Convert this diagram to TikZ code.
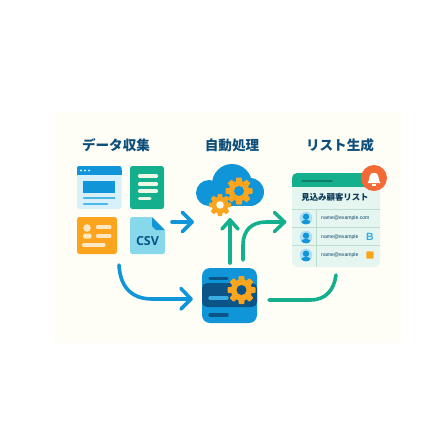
\documentclass[tikz,border=0pt]{standalone}
\usepackage{fontspec}
\newfontfamily\cjk{Noto Sans CJK JP}
\setmainfont{Liberation Sans}
\newfontfamily\opensans{Open Sans}
\definecolor{cream}{HTML}{FFFEF6}
\definecolor{navy}{HTML}{0E4E7A}
\definecolor{blueA}{HTML}{1096D8}
\definecolor{blueL}{HTML}{4BB8EA}
\definecolor{paleB}{HTML}{D8F0FA}
\definecolor{greenA}{HTML}{14B08E}
\definecolor{paleY}{HTML}{EEF8E6}
\definecolor{orangeA}{HTML}{FBA51E}
\definecolor{paleO}{HTML}{FCE8C4}
\definecolor{csvC}{HTML}{86D8EA}
\definecolor{darkB}{HTML}{0B5487}
\definecolor{cardC}{HTML}{E4F6EF}
\definecolor{sepC}{HTML}{BFDDCF}
\definecolor{redO}{HTML}{F26A35}
\definecolor{darkG}{HTML}{0E7F6A}
\tikzset{
  titletext/.style={font=\cjk\bfseries\fontsize{13.6}{14}\selectfont,text=navy,inner sep=0pt},
  mailtext/.style={font=\fontsize{5.1}{6}\selectfont,text=navy!85!black,inner sep=0pt,anchor=west},
  flow/.style={line width=3.6pt,line cap=round,line join=round},
  bluebar/.style={line width=2.3pt,line cap=round,blueL},
  greenbar/.style={line width=3.2pt,line cap=round,paleY},
  orangebar/.style={line width=3.2pt,line cap=round,paleO},
  slot/.style={line width=3.4pt,line cap=round},
  sep/.style={line width=1pt,sepC},
}
% centre x, y, outer radius, hole radius, gear colour, hole colour
\newcommand{\mygear}[6]{%
  \fill[#5] (#1,#2) circle[radius=0.76*#3 pt];
  \foreach \ang in {0,45,...,315}{%
    \fill[#5,shift={(#1,#2)},rotate=\ang,rounded corners=.6pt]
      (-0.28*#3,0) -- (-0.2*#3,#3) -- (0.2*#3,#3) -- (0.28*#3,0) -- cycle;}
  \fill[#6] (#1,#2) circle[radius=#4 pt];
}
\begin{document}
\begin{tikzpicture}[x=1pt,y=-1pt]
\useasboundingbox (0,0) rectangle (448,448);
\fill[white] (0,0) rectangle (448,448);
\fill[cream] (54,112) rectangle (401,343);

% titles
\node[titletext] (t1) at (116,145) {データ収集};
\node[titletext] (t2) at (232,145) {自動処理};
\node[titletext] (t3) at (340,145) {リスト生成};

% window icon
\fill[paleB,rounded corners=2.5pt] (77,166) rectangle (121.5,209);
\fill[blueA,rounded corners=2pt] (77,166) rectangle (121.5,172);
\fill[blueA] (77,170) rectangle (121.5,175);
\foreach \dx in {81,85,89}{\fill[paleB] (\dx,170.5) circle[radius=1.1pt];}
\fill[blueA] (83,180.5) rectangle (115,192.5);
\draw[bluebar] (84,198) -- (114.5,198);
\draw[bluebar] (84,204) -- (107,204);

% document icon
\fill[greenA,rounded corners=2.5pt] (130,166) rectangle (164,209);
\draw[greenbar] (139.5,176) -- (156.5,176);
\draw[greenbar] (139.5,184) -- (156.5,184);
\draw[greenbar] (139.5,191) -- (156.5,191);
\draw[greenbar] (139.5,198.5) -- (150,198.5);

% contact card icon
\fill[orangeA,rounded corners=2.5pt] (77,217) rectangle (117,254);
\fill[paleO] (87,228) circle[radius=3.8pt];
\fill[paleO,rounded corners=1.5pt] (83,233.5) rectangle (91.5,238.5);
\draw[orangebar] (97.5,227) -- (110,227);
\draw[orangebar] (97.5,236) -- (110,236);
\draw[orangebar] (83.5,245) -- (104,245);

% CSV icon
\fill[csvC,rounded corners=2.5pt] (130,217) -- (152,217) -- (165,230) -- (165,254) -- (130,254) -- cycle;
\fill[blueA] (152,217) -- (165,230) -- (156,230) -- (152,226) -- cycle;
\node[font=\opensans\bfseries\fontsize{12.5}{13}\selectfont,text=darkB,inner sep=0pt] (csv) at (147.5,241) {CSV};

% cloud
\fill[blueA] (232,184) circle[radius=20pt];
\fill[blueA] (209,193) circle[radius=13pt];
\fill[blueA] (250,192) circle[radius=14pt];
\fill[blueA] (209,186) rectangle (250,206);
\mygear{239}{191}{13.5}{5}{orangeA}{blueA}
\mygear{220}{205}{11}{3.8}{orangeA}{cream}

% server
\fill[blueA,rounded corners=8pt] (202,268) rectangle (257,323);
\fill[darkB,rounded corners=5pt] (202,283) rectangle (257,307);
\draw[slot,darkB] (210,278.5) -- (227,278.5);
\draw[slot,blueL!70!blueA] (210,298) -- (227,298);
\draw[slot,darkB] (210,315) -- (227,315);
\mygear{241.5}{290}{14}{5}{orangeA}{darkB}

% list card
\fill[cardC,rounded corners=5pt] (292,173) rectangle (380,267);
\fill[greenA,rounded corners=5pt] (292,173) rectangle (380,192);
\fill[cardC] (292,187) rectangle (380,195);
\draw[line width=1.8pt,darkG,line cap=round] (302,181) -- (332,181);
\fill[redO] (374,178) circle[radius=13pt];
\fill[white] (367.5,183) .. controls (370,180) and (369,176) .. (370.5,174.5)
  .. controls (371.5,172.2) and (376.5,172.2) .. (377.5,174.5)
  .. controls (379,176) and (378,180) .. (380.5,183) -- cycle;
\fill[white] (372,184) rectangle (376,185.5);
\node[font=\cjk\bfseries\fontsize{8.4}{9}\selectfont,text=navy!70!black,inner sep=0pt] (title) at (335,197) {見込み顧客リスト};
\draw[sep] (292,209) -- (380,209);
\draw[sep] (292,227) -- (380,227);
\draw[sep] (292,245) -- (380,245);
\draw[sep] (316,209) -- (316,267);
\foreach \ry in {218,237,255}{
  \fill[blueL!45] (306,\ry) circle[radius=6.3pt];
  \begin{scope}
    \clip (306,\ry) circle[radius=6.3pt];
    \fill[blueA] (306,\ry+6.5) ellipse[x radius=5.5pt,y radius=5pt];
  \end{scope}
  \fill[blueA] (306,\ry-1.3) circle[radius=3.2pt];
}
\node[mailtext] (m1) at (321,218) {name@example.com};
\node[mailtext] (m2) at (321,237) {name@example};
\node[mailtext] (m3) at (321,255) {name@example};
\node[font=\bfseries\fontsize{10.5}{10}\selectfont,text=blueL!60!blueA,inner sep=0pt] (b) at (370,237) {B};
\fill[orangeA,rounded corners=.8pt] (366.3,251.3) rectangle (373.7,258.7);

% connector ends
\coordinate (a1s) at (172,222); \coordinate (a1e) at (192,222);
\coordinate (a2s) at (230,263); \coordinate (a2e) at (230,220);
\coordinate (a3s) at (243,260); \coordinate (a3e) at (284.5,222);
\coordinate (a4s) at (119,265); \coordinate (a4e) at (191,299);
\coordinate (a5s) at (269,300); \coordinate (a5e) at (336,275);

% connectors
\draw[flow,blueA] (a1s) -- (a1e);
\draw[flow,blueA] (182.5,212.5) -- (a1e) -- (182.5,231.5);
\draw[flow,greenA] (a2s) -- (a2e);
\draw[flow,greenA] (222,229) -- (a2e) -- (238,229);
\draw[flow,greenA] (a3s) -- (243,245) .. controls (243,230) and (252,222) .. (266,222) -- (a3e);
\draw[flow,greenA] (274.5,212.5) -- (a3e) -- (274.5,231.5);
\draw[flow,blueA] (a4s) .. controls (120,285) and (130,299) .. (152,299) -- (a4e);
\draw[flow,blueA] (181,288.5) -- (a4e) -- (181,309);
\draw[flow,greenA] (a5s) -- (310,300) .. controls (326,300) and (334,290) .. (a5e);
\end{tikzpicture}
\end{document}
